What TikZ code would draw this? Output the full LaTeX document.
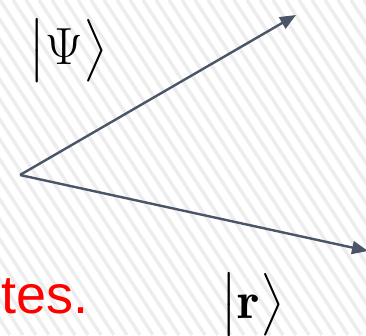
\documentclass[tikz,border=0pt]{standalone}
\usepackage{amsmath}
\usepackage{fontspec}
\usepackage{tikz}
\usetikzlibrary{arrows.meta}
\newfontfamily\arialfont{Liberation Sans}
\definecolor{vecgray}{HTML}{4A5668}
\definecolor{stripegray}{HTML}{EDEDED}
\tikzset{ketlabel/.style={anchor=base west, inner sep=0pt, scale=2.1}}

\begin{document}
\begin{tikzpicture}[x=1pt, y=-1pt, >={Triangle[length=16pt,width=13pt]}]
    \useasboundingbox (0,0) rectangle (366,335);
    \begin{scope}
        \clip (0,0) rectangle (366,335);
        \foreach \i in {-18,...,30}
            \draw[stripegray, line width=3.5pt] (\i*13,0) -- (\i*13+218,335);
    \end{scope}

    \coordinate (origin) at (20,175);
    \coordinate (psitip) at (296,15);
    \coordinate (rtip) at (368,251);

    \draw[->, vecgray, line width=2.4pt] (origin) -- (psitip);
    \draw[->, vecgray, line width=2.4pt] (origin) -- (rtip);

    \node[anchor=base west, inner sep=0pt, text=red] (tes) at (1,313)
        {\fontsize{54}{60}\arialfont tes.};
    \node[ketlabel] (psi) at (28,64)
        {\fontsize{24.88}{30}\selectfont $\bigl|\Psi\bigr\rangle$};
    \node[ketlabel] (ket) at (220,318)
        {\fontsize{24.88}{30}\selectfont $\bigl|\mathbf{r}\bigr\rangle$};
\end{tikzpicture}
\end{document}
